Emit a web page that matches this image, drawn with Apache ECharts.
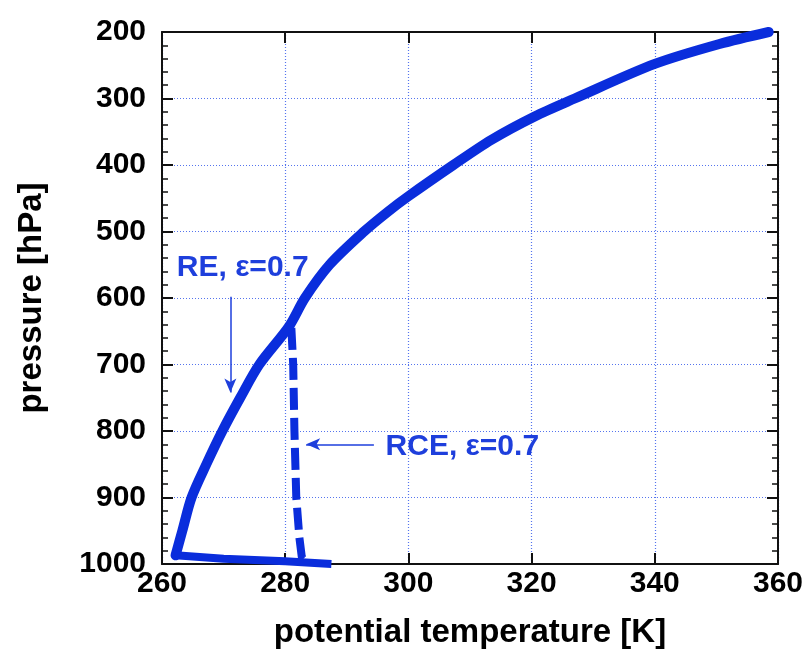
<!DOCTYPE html>
<html>
<head>
<meta charset="utf-8">
<script src="https://cdn.jsdelivr.net/npm/echarts@6/dist/echarts.min.js"></script>
<style>
html,body{margin:0;padding:0;background:#fff;}
#chart{width:806px;height:654px;}
</style>
</head>
<body>
<div id="chart"></div>
<script>
// Radiative equilibrium (RE) profile: potential temperature [K] vs pressure [hPa]
const reTheta = [358.5, 350.5, 340, 327, 320.5, 313.5, 307.3, 300, 296.7, 292.8, 287.2, 283.2, 280.6, 275.8, 272.7, 269.8, 267.2, 264.8, 263.3, 262.2];
const rePres  = [200, 218, 248, 300, 327, 362, 400, 447, 470, 500, 550, 600, 643, 700, 750, 800, 850, 900, 950, 987];
// RE surface jump (near-surface air to surface)
const sfcTheta = [262.2, 270, 280, 287.5];
const sfcPres  = [987, 992, 996, 1000];
// Radiative-convective equilibrium (RCE) profile below the junction
const rceTheta = [281.0, 281.3, 281.5, 281.8, 282.3, 282.7, 283.6];
const rcePres  = [645, 700, 800, 900, 960, 990, 998];
// axes
const xMin = 260, xMax = 360, xStep = 20;
const yMin = 200, yMax = 1000, yStep = 100;
// annotations (text, anchor in data coords)
const reLabel = 'RE, ε=0.7';
const rceLabel = 'RCE, ε=0.7';
const reArrow = [[271.1, 598], [271.1, 742]];
const rceArrow = [[294.4, 820], [283.4, 820]];
const reLabelAt = [262.4, 554];
const rceLabelAt = [296.3, 823];

const blue = '#0a2ddc';
const txtBlue = '#1e3fdc';
const font = "'Liberation Sans', Arial, Helvetica, sans-serif";

const reData = reTheta.map((t, i) => [t, rePres[i]]);
const sfcData = sfcTheta.map((t, i) => [t, sfcPres[i]]);
const rceData = rceTheta.map((t, i) => [t, rcePres[i]]);

const chart = echarts.init(document.getElementById('chart'), null, {renderer: 'canvas'});

const axisLineStyle = {color: '#111', width: 2};
const gridLineStyle = {color: '#5574ee', width: 1.2, type: [1, 2]};

const option = {
  animation: false,
  backgroundColor: '#fff',
  grid: {left: 162, right: 24, top: 32, bottom: 89, containLabel: false},
  xAxis: [{
    type: 'value', min: xMin, max: xMax, interval: xStep, position: 'bottom',
    name: 'potential temperature [K]', nameLocation: 'middle', nameGap: 52,
    nameTextStyle: {fontFamily: font, fontWeight: 'bold', fontSize: 33, color: '#000'},
    axisLine: {show: true, lineStyle: axisLineStyle},
    axisTick: {show: true, inside: true, length: 11, lineStyle: {color: '#111', width: 2}},
    axisLabel: {fontFamily: font, fontWeight: 'bold', fontSize: 30, color: '#000', margin: 5, formatter: v => String(v)},
    splitLine: {show: true, lineStyle: gridLineStyle}
  }, {
    type: 'value', min: xMin, max: xMax, interval: xStep, position: 'top',
    axisLine: {show: true, lineStyle: axisLineStyle},
    axisTick: {show: true, inside: true, length: 11, lineStyle: {color: '#111', width: 2}},
    axisLabel: {show: false},
    splitLine: {show: false}
  }],
  yAxis: [{
    type: 'value', min: yMin, max: yMax, interval: yStep, inverse: true, position: 'left',
    name: 'pressure [hPa]', nameLocation: 'middle', nameGap: 114, nameRotate: 90,
    nameTextStyle: {fontFamily: font, fontWeight: 'bold', fontSize: 33, color: '#000'},
    axisLine: {show: true, lineStyle: axisLineStyle},
    axisTick: {show: true, inside: true, length: 11, lineStyle: {color: '#111', width: 2}},
    minorTick: {show: true, splitNumber: 5, length: 6, lineStyle: {color: '#111', width: 1.5}},
    axisLabel: {fontFamily: font, fontWeight: 'bold', fontSize: 30, color: '#000', margin: 16, padding: [0, 0, 10, 0], formatter: v => String(v)},
    splitLine: {show: true, lineStyle: gridLineStyle}
  }, {
    type: 'value', min: yMin, max: yMax, interval: yStep, inverse: true, position: 'right',
    axisLine: {show: true, lineStyle: axisLineStyle},
    axisTick: {show: true, inside: true, length: 11, lineStyle: {color: '#111', width: 2}},
    minorTick: {show: true, splitNumber: 5, length: 6, lineStyle: {color: '#111', width: 1.5}},
    axisLabel: {show: false},
    splitLine: {show: false}
  }],
  series: [{
    name: 'RCE', type: 'line', data: rceData, showSymbol: false, clip: false,
    lineStyle: {color: blue, width: 8, type: [22, 8], cap: 'butt'},
    z: 3
  }, {
    name: 'RE surface', type: 'line', data: sfcData, showSymbol: false, clip: false,
    lineStyle: {color: blue, width: 8, join: 'round'},
    z: 4
  }, {
    name: 'RE', type: 'line', data: reData, showSymbol: false, clip: false,
    smooth: 0.3,
    lineStyle: {color: blue, width: 10, join: 'round', cap: 'round'},
    z: 4,
    markLine: {
      silent: true, animation: false,
      symbol: ['none', 'arrow'], symbolSize: [9, 14],
      lineStyle: {color: txtBlue, width: 1.5, type: 'solid'},
      label: {show: false},
      data: [
        [{coord: reArrow[0]}, {coord: reArrow[1]}],
        [{coord: rceArrow[0]}, {coord: rceArrow[1]}]
      ]
    }
  }]
};
chart.setOption(option);

const p1 = chart.convertToPixel({gridIndex: 0}, reLabelAt);
const p2 = chart.convertToPixel({gridIndex: 0}, rceLabelAt);
chart.setOption({
  graphic: [{
    type: 'text', x: p1[0], y: p1[1], z: 10,
    style: {text: reLabel, fontFamily: font, fontWeight: 'bold', fontSize: 30, fill: txtBlue, textAlign: 'left', textVerticalAlign: 'middle', verticalAlign: 'middle'}
  }, {
    type: 'text', x: p2[0], y: p2[1], z: 10,
    style: {text: rceLabel, fontFamily: font, fontWeight: 'bold', fontSize: 30, fill: txtBlue, textAlign: 'left', textVerticalAlign: 'middle', verticalAlign: 'middle'}
  }]
});
</script>
</body>
</html>
